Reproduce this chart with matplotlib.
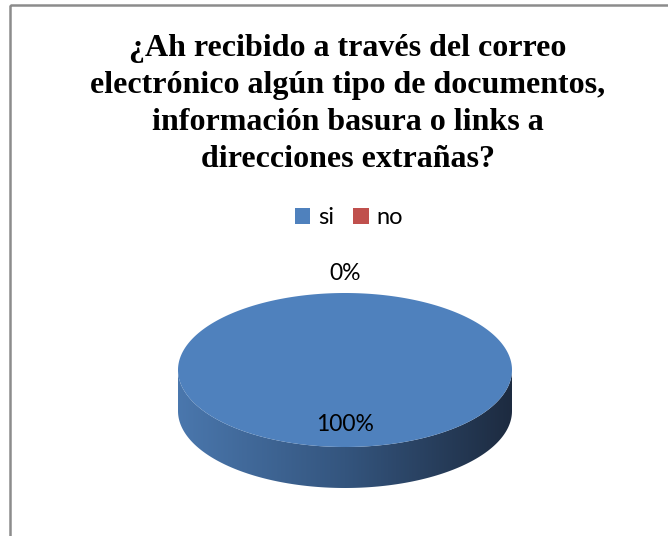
import numpy as np
import matplotlib.pyplot as plt
from matplotlib.patches import Polygon, Rectangle, Patch
from matplotlib.colors import LinearSegmentedColormap

# data
categories = ['si', 'no']
values = [100, 0]
colors = ['#4f81bd', '#c0504d']
title = ('¿Ah recibido a través del correo\nelectrónico algún tipo de documentos,\n'
         'información basura o links a\ndirecciones extrañas?')

fig = plt.figure(figsize=(6.68, 5.36), dpi=100)
ax = fig.add_axes([0, 0, 1, 1])
ax.set_xlim(0, 668)
ax.set_ylim(536, 0)
ax.axis('off')

# chart frame
ax.add_patch(Rectangle((10, 5), 700, 600, fill=False, edgecolor='#8c8c8c', lw=1.8, clip_on=False))

ax.text(348, 104, title, ha='center', va='center', fontsize=23, fontweight='bold',
        family='Liberation Serif', linespacing=1.37)

# 3d pie geometry (pixels)
cx, cy, rx, ry, depth = 345, 370, 167, 77, 41


def pt(theta, dy=0.0):
    # theta in degrees, clockwise from 12 o'clock
    t = np.radians(theta)
    return cx + rx * np.sin(t), cy - ry * np.cos(t) + dy


total = float(sum(values))
start = 0.0
wedges = []
for v, c in zip(values, colors):
    span = 360.0 * v / total
    wedges.append((start, start + span, c, v))
    start += span

side_cmap = LinearSegmentedColormap.from_list('side', ['#4a77ad', '#34557e', '#1d2b40'])

# side walls (front half: 90..270)
for a0, a1, c, v in wedges:
    lo, hi = max(a0, 90), min(a1, 270)
    if hi <= lo:
        continue
    th = np.linspace(lo, hi, 200)
    xs, ys = pt(th)
    xb, yb = pt(th[::-1], depth)
    poly = Polygon(np.column_stack([np.r_[xs, xb], np.r_[ys, yb]]), closed=True,
                   facecolor='none', edgecolor='none')
    ax.add_patch(poly)
    grad = np.linspace(0, 1, 256).reshape(1, -1)
    im = ax.imshow(grad, cmap=side_cmap, aspect='auto',
                   extent=(cx - rx, cx + rx, cy + ry + depth + 2, cy - 2), zorder=1)
    im.set_clip_path(poly)

# top faces
for a0, a1, c, v in wedges:
    if a1 <= a0:
        continue
    th = np.linspace(a0, a1, 400)
    xs, ys = pt(th)
    if a1 - a0 < 360:
        xs = np.r_[cx, xs]
        ys = np.r_[cy, ys]
    ax.add_patch(Polygon(np.column_stack([xs, ys]), closed=True, facecolor=c,
                         edgecolor='none', zorder=2))

# labels
for a0, a1, c, v in wedges:
    mid = (a0 + a1) / 2
    pct = '{:.0f}%'.format(100 * v / total)
    if v == 0:
        x, y = pt(mid)
        ax.text(x, y - 20, pct, ha='center', va='center', fontsize=16.5, family='Lato', zorder=3)
    else:
        t = np.radians(mid)
        x, y = cx + 0.71 * rx * np.sin(t), cy - 0.71 * ry * np.cos(t)
        ax.text(x, y, pct, ha='center', va='center', fontsize=16.5, family='Lato', zorder=3)

handles = [Patch(facecolor=c, edgecolor='none') for c in colors]
ax.legend(handles, categories, loc='center', bbox_to_anchor=(349, 218),
          bbox_transform=ax.transData, ncol=2, frameon=False,
          prop={'family': 'Lato', 'size': 17}, handlelength=0.65, handleheight=0.65,
          handletextpad=0.35, columnspacing=0.8)

fig.savefig('out.png', dpi=100)
